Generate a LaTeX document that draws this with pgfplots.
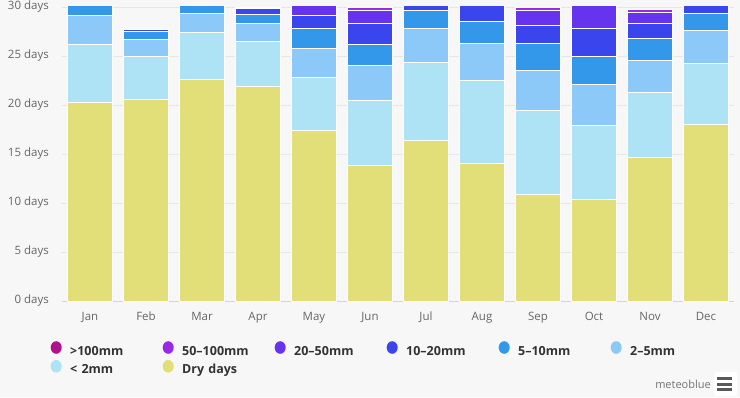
\documentclass[border=0pt]{standalone}
\usepackage{fontspec}
\setmainfont{Open Sans}
\usepackage{pgfplots}
\pgfplotsset{compat=1.18}
\definecolor{bg}{HTML}{F7F7F7}
\definecolor{gridc}{HTML}{E6E6E6}
\definecolor{axisc}{HTML}{CCD6EB}
\definecolor{cDry}{HTML}{E2DE78}
\definecolor{cA}{HTML}{AEE3F5}
\definecolor{cB}{HTML}{8CC8F8}
\definecolor{cC}{HTML}{3397EA}
\definecolor{cD}{HTML}{3B45EE}
\definecolor{cE}{HTML}{6633EE}
\definecolor{cF}{HTML}{9A28E8}
\definecolor{cG}{HTML}{B0128F}
\pgfplotsset{
  dot legend/.style={legend image code/.code={\fill[##1,draw=none] (5.5pt,4.5pt) ellipse (5.5pt and 6.3pt);}},
}
\pgfplotstableread{
x dry a b c d e f g
0 20.3 5.9 2.9 1.9 0 0 0 0
1 20.6 4.3 1.8 0.85 0.2 0 0 0
2 22.6 4.8 1.9 1.7 0 0 0 0
3 21.9 4.6 1.8 0.9 0.6 0.2 0 0
4 17.4 5.4 3.0 2.0 1.35 1.5 0.35 0
5 13.8 6.7 3.55 2.17 2.05 1.42 0.31 0
6 16.4 7.9 3.5 1.8 1.1 0.3 0 0
7 14.05 8.4 3.85 2.2 2.0 0.5 0 0
8 10.9 8.5 4.1 2.8 1.86 1.44 0.4 0
9 10.4 7.46 4.25 2.8 2.9 2.6 0.6 0
10 14.66 6.64 3.25 2.25 1.5 1.15 0.3 0
11 18.06 6.14 3.45 1.7 1.3 0.35 0 0
}\datatable
\begin{document}
\begin{tikzpicture}
\useasboundingbox (0,0) rectangle (740pt,397pt);
\fill[bg] (0,0) rectangle (740pt,397pt);
\begin{axis}[
  at={(62pt,96pt)}, anchor=south west,
  scale only axis, width=672pt, height=294pt,
  ybar stacked, bar width=45pt,
  xmin=-0.5, xmax=11.5, ymin=0, ymax=30,
  clip=true,
  xtick={0,...,11},
  xticklabels={Jan,Feb,Mar,Apr,May,Jun,Jul,Aug,Sep,Oct,Nov,Dec},
  ytick={0,5,...,30},
  yticklabel={\pgfmathprintnumber{\tick} days},
  /pgf/number format/assume math mode=true,
  axis line style={draw=none},
  major tick length=0pt,
  ymajorgrids, grid style={color=gridc, line width=0.8pt},
  yticklabel style={font=\fontsize{11.5}{13}\selectfont, text=black!60, anchor=east, inner sep=0pt, xshift=-13pt},
  xticklabel style={font=\fontsize{11.5}{13}\selectfont, text=black!60, anchor=north, inner sep=0pt, yshift=-11pt},
  every axis plot/.append style={draw=white, line width=1pt},
  legend columns=6,
  reverse legend,
  legend style={
    at={(-0.0171,-0.1361)}, anchor=north west,
    draw=none, fill=none, inner sep=0pt, row sep=0pt,
    font=\fontsize{12.5}{14}\bfseries\selectfont, text=black!80,
    nodes={text width=92.5pt, align=left, inner xsep=0pt, inner ysep=2pt, text height=9pt, text depth=3pt},
    /tikz/every odd column/.append style={column sep=8.5pt},
    /tikz/every even column/.append style={column sep=0pt},
  },
]
\addplot[fill=cDry, dot legend] table[x=x, y=dry] {\datatable};
\addlegendentry{Dry days}
\addplot[fill=cA, dot legend] table[x=x, y=a] {\datatable};
\addlegendentry{< 2mm}
\addplot[fill=cB, dot legend] table[x=x, y=b] {\datatable};
\addlegendentry{2--5mm}
\addplot[fill=cC, dot legend] table[x=x, y=c] {\datatable};
\addlegendentry{5--10mm}
\addplot[fill=cD, dot legend] table[x=x, y=d] {\datatable};
\addlegendentry{10--20mm}
\addplot[fill=cE, dot legend] table[x=x, y=e] {\datatable};
\addlegendentry{20--50mm}
\addplot[fill=cF, dot legend] table[x=x, y=f] {\datatable};
\addlegendentry{50--100mm}
\addplot[fill=cG, dot legend] table[x=x, y=g] {\datatable};
\addlegendentry{>100mm}
\draw[axisc, line width=1pt] (rel axis cs:0,0) -- (rel axis cs:1,0);
\end{axis}
\node[anchor=base east, font=\fontsize{11}{13}\selectfont, text=black!55, inner sep=0pt] at (711pt,9pt) {meteoblue};
\fill[white, rounded corners=2pt] (714pt,1pt) rectangle (737pt,25pt);
\fill[black!65] (717pt,17pt) rectangle (732pt,20pt);
\fill[black!65] (717pt,11.5pt) rectangle (732pt,14.5pt);
\fill[black!65] (717pt,6pt) rectangle (732pt,9pt);
\end{tikzpicture}
\end{document}
